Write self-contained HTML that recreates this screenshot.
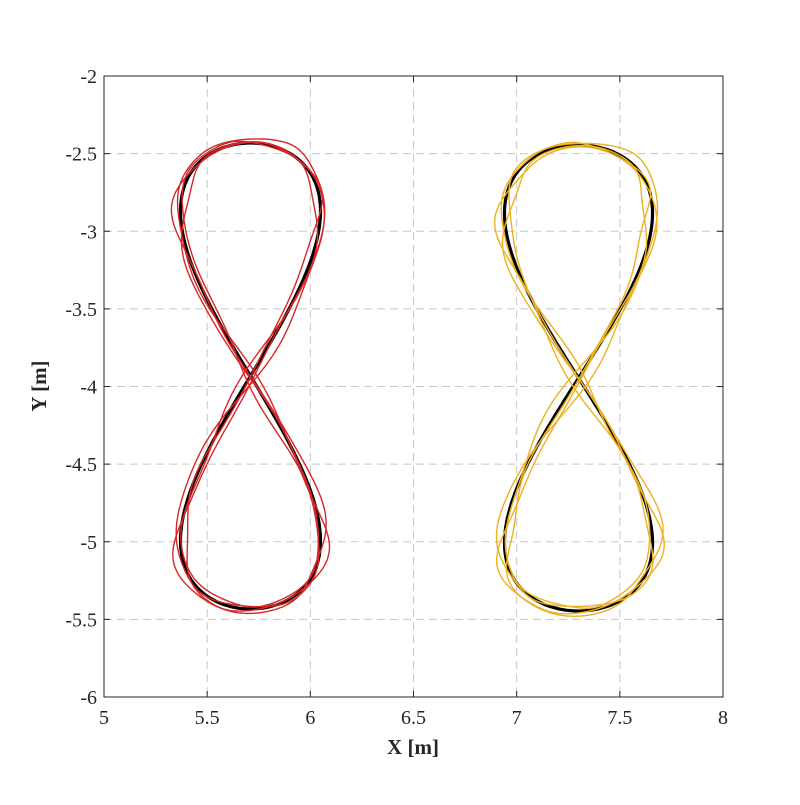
<!DOCTYPE html><html><head><style>body{margin:0;background:#fff}svg text{font-family:"Liberation Serif",serif}</style></head><body>
<svg id="s" width="800" height="800" xmlns="http://www.w3.org/2000/svg">
<rect width="800" height="800" fill="#fff"/>
<g id="grid" stroke="#c8c8c8" stroke-width="1" stroke-dasharray="8,5"></g>
<g id="data" fill="none"></g>
<rect x="104" y="76" width="619" height="621" fill="none" stroke="#262626" stroke-width="1"/>
<g id="ticks" stroke="#262626"></g>
<g id="lab" font-size="20" fill="#262626"></g>
<text x="413" y="754" text-anchor="middle" font-size="21" font-weight="bold" fill="#262626">X [m]</text>
<text transform="translate(46,386) rotate(-90)" text-anchor="middle" font-size="21" font-weight="bold" fill="#262626">Y [m]</text>
</svg>
<script>
const NS="http://www.w3.org/2000/svg";
function el(p,t,a,txt){const e=document.createElementNS(NS,t);for(const k in a)e.setAttribute(k,a[k]);if(txt!==undefined)e.textContent=txt;document.getElementById(p).appendChild(e);}
const X=v=>104+(v-5)*619/3, Y=v=>76+(-2-v)*621/4;
for(let i=1;i<6;i++){const x=X(5+i*0.5);el('grid','line',{x1:x,y1:76,x2:x,y2:697});el('ticks','line',{x1:x,y1:697,x2:x,y2:691});el('ticks','line',{x1:x,y1:76,x2:x,y2:82});}
for(let i=0;i<=6;i++){const x=X(5+i*0.5);el('lab','text',{x:x,y:724,'text-anchor':'middle'},String(5+i*0.5));}
for(let i=1;i<8;i++){const y=Y(-2-i*0.5);el('grid','line',{x1:104,y1:y,x2:723,y2:y});el('ticks','line',{x1:104,y1:y,x2:110,y2:y});el('ticks','line',{x1:723,y1:y,x2:717,y2:y});}
for(let i=0;i<=8;i++){const v=-2-i*0.5;el('lab','text',{x:97,y:Y(v)+7,'text-anchor':'end'},String(v));}
function fig(cx,cy,a,b,noise,seed){let d='';const N=400;for(let i=0;i<=N;i++){const t=i/N*2*Math.PI;let n=0,m=0;if(noise){n=noise*(Math.sin(3*t+seed)+0.6*Math.sin(7*t+seed*2.3)+0.3*Math.sin(11*t+seed*1.1));m=noise*0.6*(Math.sin(2*t+seed*1.7)+0.5*Math.sin(5*t+seed));}
const x=cx+a*Math.sin(2*t)+n,y=cy-b*Math.sin(t)+m;d+=(i?'L':'M')+x.toFixed(1)+','+y.toFixed(1);}return d;}
el('data','path',{d:fig(250.5,376,70,233,0,0),stroke:'#000','stroke-width':3.2});
[0.4,1.9,3.3,4.7].forEach(s=>el('data','path',{d:fig(250.5,376,71,234,5,s),stroke:'#d62728','stroke-width':1.4}));
el('data','path',{d:fig(578.5,378,74,233,0,0),stroke:'#000','stroke-width':3.2});
[2.1,2.9,5.2,0.9].forEach(s=>el('data','path',{d:fig(578.5,378,75,233,6,s),stroke:'#edb120','stroke-width':1.4}));
</script>
</body></html>
